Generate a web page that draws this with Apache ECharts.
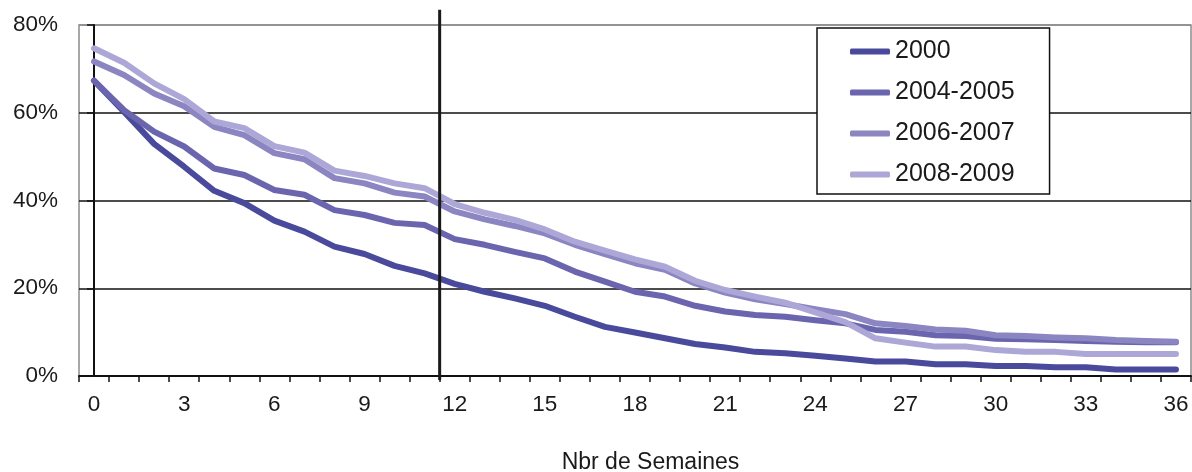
<!DOCTYPE html>
<html>
<head>
<meta charset="utf-8">
<script src="https://cdn.jsdelivr.net/npm/echarts@6/dist/echarts.min.js"></script>
<style>
  html, body { margin: 0; padding: 0; background: #fff; }
  #chart { width: 1192px; height: 472px; }
</style>
</head>
<body>
<div id="chart"></div>
<script>
// Weeks 0..36
const weeks = Array.from({ length: 37 }, (_, i) => String(i));

// Share still remaining (%) per week, by period
const s2000 = [67.3, 60.2, 52.9, 47.7, 42.2, 39.4, 35.4, 32.9, 29.5, 27.8, 25.1, 23.4, 21.0, 19.2, 17.7, 16.0, 13.5, 11.2, 9.9, 8.6, 7.3, 6.5, 5.5, 5.2, 4.6, 4.0, 3.3, 3.3, 2.7, 2.7, 2.3, 2.3, 2.0, 2.0, 1.5, 1.5, 1.5];
const s2004 = [67.3, 60.6, 55.7, 52.3, 47.3, 45.8, 42.4, 41.3, 37.8, 36.7, 34.9, 34.4, 31.2, 29.9, 28.3, 26.8, 23.8, 21.5, 19.2, 18.1, 16.0, 14.7, 13.9, 13.5, 12.7, 12.0, 10.5, 10.1, 9.3, 9.1, 8.5, 8.4, 8.2, 8.0, 7.8, 7.7, 7.7];
const s2006 = [71.7, 68.6, 64.4, 61.5, 56.8, 54.9, 50.8, 49.4, 45.1, 43.9, 41.8, 40.9, 37.5, 35.7, 34.2, 32.5, 29.9, 27.8, 25.7, 24.2, 21.1, 19.0, 17.5, 16.4, 15.2, 14.1, 12.0, 11.4, 10.6, 10.3, 9.3, 9.1, 8.8, 8.6, 8.2, 8.0, 7.8];
const s2008 = [74.7, 71.4, 66.7, 63.1, 58.0, 56.5, 52.4, 50.9, 46.8, 45.6, 43.9, 42.8, 39.2, 37.2, 35.6, 33.4, 30.6, 28.6, 26.6, 24.9, 21.7, 19.6, 18.1, 16.7, 14.5, 12.3, 8.6, 7.6, 6.7, 6.7, 5.9, 5.5, 5.5, 5.0, 5.0, 5.0, 5.0];

const seriesNames = ['2000', '2004-2005', '2006-2007', '2008-2009'];
const seriesColors = ['#4a4a9c', '#6a65ae', '#8b85c2', '#aca7d6'];

// Vertical separator between week 11 and week 12
const cutoffWeek = 11.5;

const FONT = 'Liberation Sans, Arial, sans-serif';

const chart = echarts.init(document.getElementById('chart'), null, { renderer: 'canvas' });

const lines = [s2000, s2004, s2006, s2008].map((d, i) => ({
  name: seriesNames[i],
  type: 'line',
  xAxisIndex: 0,
  data: d,
  symbol: 'none',
  showSymbol: false,
  smooth: false,
  color: seriesColors[i],
  lineStyle: { width: 6, color: seriesColors[i], cap: 'round', join: 'round' },
  z: 3 + i
}));

chart.setOption({
  animation: false,
  backgroundColor: '#fff',
  grid: {
    left: 79, right: 1, top: 25, bottom: 96,
    outerBoundsMode: 'none',
    containLabel: false,
    show: true, borderColor: '#8c8c8c', borderWidth: 1.5, backgroundColor: 'transparent'
  },
  legend: {
    orient: 'vertical',
    left: 817, top: 28,
    padding: [11, 35, 7, 33],
    itemWidth: 40, itemHeight: 6, itemGap: 16,
    icon: 'roundRect',
    borderColor: '#111', borderWidth: 1.5,
    backgroundColor: '#fff',
    textStyle: { fontFamily: FONT, fontSize: 25, lineHeight: 25, color: '#1a1a1a' },
    data: seriesNames
  },
  xAxis: [
    {
      type: 'category',
      data: weeks,
      boundaryGap: true,
      name: 'Nbr de Semaines',
      nameLocation: 'middle',
      nameGap: 75,
      nameTextStyle: { fontFamily: FONT, fontSize: 23, color: '#1a1a1a', padding: [0, 0, 0, 31] },
      axisLine: { lineStyle: { color: '#111', width: 2 } },
      axisTick: { show: true, interval: 0, length: 6, lineStyle: { color: '#111', width: 1.5 } },
      axisLabel: { interval: 2, margin: 17, fontFamily: FONT, fontSize: 22.5, color: '#1a1a1a' },
      splitLine: { show: false }
    },
    {
      type: 'value',
      min: -0.5, max: 36.5,
      show: false
    }
  ],
  yAxis: {
    type: 'value',
    min: 0, max: 80, interval: 20,
    axisLine: { show: true, lineStyle: { color: '#111', width: 2 } },
    axisTick: { show: true, length: 7, lineStyle: { color: '#111', width: 1.5 } },
    axisLabel: { margin: 21, padding: [3, 0, 0, 0], fontFamily: FONT, fontSize: 22.5, color: '#1a1a1a', formatter: '{value}%' },
    splitLine: { show: true, lineStyle: { color: ['#111', '#111', '#111', '#111', '#8c8c8c'], width: 1.5 } }
  },
  series: lines.concat([{
    name: 'cutoff',
    type: 'line',
    xAxisIndex: 1,
    data: [[cutoffWeek, -0.9], [cutoffWeek, 83.5]],
    symbol: 'none',
    clip: false,
    silent: true,
    color: '#1a1a1a',
    lineStyle: { width: 3, color: '#1a1a1a' },
    z: 10
  }])
});
</script>
</body>
</html>
